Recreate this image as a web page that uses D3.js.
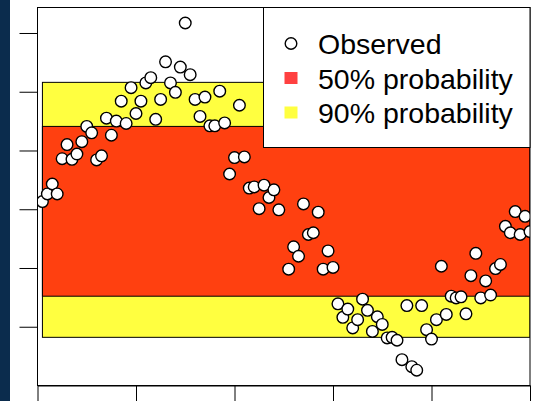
<!DOCTYPE html>
<html>
<head>
<meta charset="utf-8">
<script src="https://cdn.jsdelivr.net/npm/d3@7"></script>
<style>
  body { margin: 0; background: #fff; }
  svg { display: block; font-family: 'Liberation Sans', Arial, sans-serif; }
</style>
</head>
<body>
<div id="chart"></div>
<script>
// observed series, one value per time step (step 50 has no observation)
const steps = d3.range(1, 101);
const observed = [
  31.3, 32.6, 34.3, 32.6, 38.6, 41.0, 38.5, 39.4, 41.5, 44.1,
  43.0, 38.4, 39.1, 45.5, 42.6, 45.0, 48.4, 44.6, 50.7, 46.3,
  48.4, 51.5, 52.4, 45.3, 48.7, 55.1, 51.5, 49.9, 54.2, 61.7,
  52.9, 48.7, 45.8, 49.1, 44.2, 44.2, 50.1, 44.7, 36.0, 38.8,
  47.7, 38.9, 33.6, 33.8, 30.1, 34.1, 32.0, 33.3, 29.9, null,
  19.8, 23.6, 22.0, 30.9, 25.7, 26.0, 29.5, 19.8, 22.9, 20.1,
  13.9, 11.6, 13.0, 9.8, 11.2, 14.7, 12.8, 9.2, 11.7, 10.4,
  8.1, 8.2, 7.7, 4.4, 13.6, 3.2, 2.6, 13.6, 9.5, 7.9,
  11.2, 20.3, 12.1, 15.2, 14.9, 15.1, 12.2, 18.7, 22.5, 14.9,
  17.8, 15.4, 19.9, 20.6, 27.1, 26.0, 29.6, 25.7, 28.8, 26.2
];

// probability intervals [lower, upper], drawn over steps 1..100
const band90 = [8.2, 51.6];
const band50 = [15.2, 44.1];
const bandSpan = [1, 100];

const xTicks = [0, 20, 40, 60, 80, 100];
const yTicks = [10, 20, 30, 40, 50, 60];
const legendLabels = ['Observed', '50% probability', '90% probability'];

const W = 533, H = 401;
const plot = { left: 37.5, right: 530, top: 7.5, bottom: 385.5 };

const svg = d3.select('#chart').append('svg')
  .attr('width', W)
  .attr('height', H);

// dark strip at the left edge of the screenshot
svg.append('rect')
  .attr('x', 0).attr('y', 0)
  .attr('width', 10).attr('height', H)
  .attr('fill', '#0b2c4d');

const x = d3.scaleLinear().domain([0, 100]).range([plot.left, plot.right]);
const y = d3.scaleLinear().domain([0, 64.34]).range([plot.bottom, plot.top]);

svg.append('clipPath').attr('id', 'plot-clip')
  .append('rect')
  .attr('x', plot.left).attr('y', plot.top)
  .attr('width', plot.right - plot.left)
  .attr('height', plot.bottom - plot.top);

const g = svg.append('g').attr('clip-path', 'url(#plot-clip)');

// bands: semi transparent yellow, red on top of it
g.append('rect')
  .attr('x', x(bandSpan[0]))
  .attr('y', y(band90[1]))
  .attr('width', x(bandSpan[1]) - x(bandSpan[0]))
  .attr('height', y(band90[0]) - y(band90[1]))
  .attr('fill', 'rgba(255,255,0,0.75)')
  .attr('stroke', '#000')
  .attr('stroke-width', 1);

g.append('rect')
  .attr('x', x(bandSpan[0]))
  .attr('y', y(band50[1]))
  .attr('width', x(bandSpan[1]) - x(bandSpan[0]))
  .attr('height', y(band50[0]) - y(band50[1]))
  .attr('fill', 'rgba(255,0,0,0.75)')
  .attr('stroke', '#000')
  .attr('stroke-width', 1);

const pts = steps
  .map((s, i) => ({ s, v: observed[i] }))
  .filter(d => d.v !== null);

g.selectAll('.pt')
  .data(pts)
  .enter()
  .append('circle')
  .attr('class', 'pt')
  .attr('cx', d => x(d.s))
  .attr('cy', d => y(d.v))
  .attr('r', 5.8)
  .attr('fill', '#fff')
  .attr('stroke', '#000')
  .attr('stroke-width', 1.4);

// axes, labels fall outside the cropped picture
svg.append('g')
  .attr('transform', `translate(0,${plot.bottom})`)
  .call(d3.axisBottom(x).tickValues(xTicks).tickSize(18).tickSizeOuter(0).tickFormat(''))
  .call(a => a.selectAll('line,path').attr('stroke', '#000').attr('stroke-width', 1));

svg.append('g')
  .attr('transform', `translate(${plot.left},0)`)
  .call(d3.axisLeft(y).tickValues(yTicks).tickSize(18).tickSizeOuter(0).tickFormat(''))
  .call(a => a.select('.domain').remove())
  .call(a => a.selectAll('line').attr('stroke', '#000').attr('stroke-width', 1));

// plot box
svg.append('rect')
  .attr('x', plot.left).attr('y', plot.top)
  .attr('width', plot.right - plot.left)
  .attr('height', plot.bottom - plot.top)
  .attr('fill', 'none')
  .attr('stroke', '#000')
  .attr('stroke-width', 1);

// legend
const lg = svg.append('g');
lg.append('rect')
  .attr('x', 263.5).attr('y', plot.top)
  .attr('width', plot.right - 263.5)
  .attr('height', 140)
  .attr('fill', '#fff')
  .attr('stroke', '#000')
  .attr('stroke-width', 1);

const rowY = [43.5, 78, 112.5];
lg.append('circle')
  .attr('cx', 291).attr('cy', rowY[0])
  .attr('r', 5.8)
  .attr('fill', '#fff')
  .attr('stroke', '#000')
  .attr('stroke-width', 1.4);
lg.append('rect')
  .attr('x', 284.5).attr('y', rowY[1] - 6)
  .attr('width', 13).attr('height', 12)
  .attr('fill', 'rgba(255,0,0,0.75)');
lg.append('rect')
  .attr('x', 284.5).attr('y', rowY[2] - 6)
  .attr('width', 13).attr('height', 12)
  .attr('fill', 'rgba(255,255,0,0.75)');

lg.selectAll('.lbl')
  .data(legendLabels)
  .enter()
  .append('text')
  .attr('class', 'lbl')
  .attr('x', 318)
  .attr('y', (d, i) => rowY[i] + 10.5)
  .attr('font-size', '28.5px')
  .attr('fill', '#000')
  .text(d => d);
</script>
</body>
</html>
